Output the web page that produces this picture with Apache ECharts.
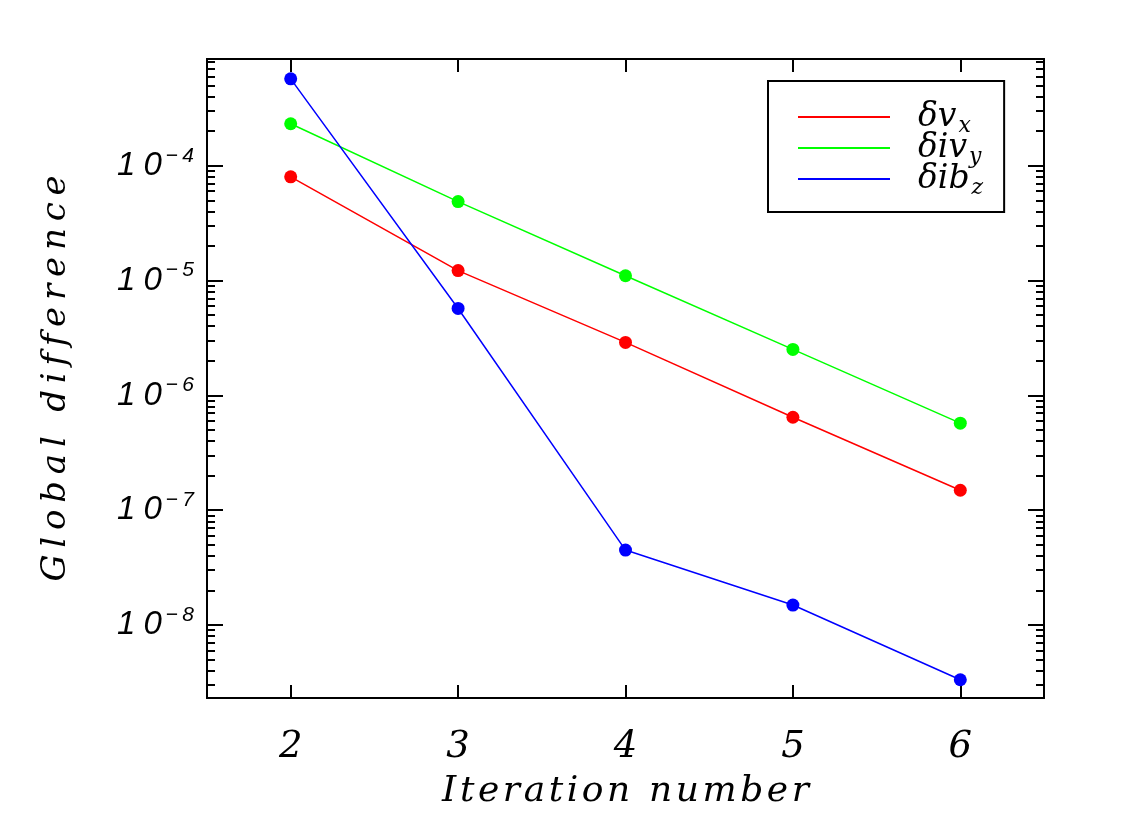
<!DOCTYPE html>
<html>
<head>
<meta charset="utf-8">
<script src="https://cdn.jsdelivr.net/npm/echarts@6/dist/echarts.min.js"></script>
<style>
  html, body { margin: 0; padding: 0; background: #fff; }
  #main { width: 1146px; height: 815px; }
</style>
</head>
<body>
<div id="main"></div>
<script>
// 迭代次数
var iterations = [2, 3, 4, 5, 6];
// 各分量的全局差值
var dvx = [8.0e-5, 1.22e-5, 2.89e-6, 6.44e-7, 1.49e-7];
var divy = [2.32e-4, 4.87e-5, 1.10e-5, 2.51e-6, 5.72e-7];
var dibz = [5.71e-4, 5.71e-6, 4.49e-8, 1.49e-8, 3.33e-9];
// 坐标轴刻度
var xTicks = [2, 3, 4, 5, 6];
var yMajorExp = [-8, -7, -6, -5, -4];
var yMin = 2.31e-9;
var yMax = 8.5e-4;

var serifItalic = 'DejaVu Serif';

// 字母间加细空格，模拟原图的宽字距
function spaced(str, sep) {
    return str.split('').join(sep);
}
// 对数变换
function toPoints(vals) {
    return iterations.map(function (x, i) {
        return [x, Math.log10(vals[i])];
    });
}
// 次刻度：k * 10^n
function minorTicks() {
    var out = [];
    for (var n = -10; n <= -3; n++) {
        for (var k = 2; k <= 9; k++) {
            var v = Math.log10(k) + n;
            if (v >= Math.log10(yMin) && v <= Math.log10(yMax)) {
                out.push(v);
            }
        }
    }
    return out;
}

function yAxisDef(position, major, showLabel) {
    var ticks = major ? yMajorExp : minorTicks();
    return {
        type: 'value',
        position: position,
        min: Math.log10(yMin),
        max: Math.log10(yMax),
        name: (showLabel ? spaced('Global difference', '\u2009') : ''),
        nameLocation: 'middle',
        nameGap: 134,
        nameTextStyle: {
            fontFamily: serifItalic,
            fontStyle: 'italic',
            fontSize: 34,
            color: '#000'
        },
        axisLine: {show: true, lineStyle: {color: '#000', width: 2}},
        splitLine: {show: false},
        axisTick: {
            show: true,
            inside: true,
            length: major ? 16 : 8,
            customValues: ticks,
            lineStyle: {color: '#000', width: 2}
        },
        axisLabel: {
            show: showLabel,
            customValues: yMajorExp,
            margin: 13,
            formatter: function (v) {
                return '{b|1\u20050}{s|\u2212\u2009' + Math.abs(Math.round(v)) + '}';
            },
            rich: {
                b: {
                    fontFamily: 'Liberation Sans',
                    fontStyle: 'italic',
                    fontSize: 33,
                    color: '#000'
                },
                s: {
                    fontFamily: 'Liberation Sans',
                    fontStyle: 'italic',
                    fontSize: 21,
                    color: '#000',
                    padding: [0, 0, 20, 4]
                }
            }
        }
    };
}

function xAxisDef(position, showLabel) {
    return {
        type: 'value',
        position: position,
        min: 1.5,
        max: 6.5,
        name: (showLabel ? spaced('Iteration number', '\u200a') : ''),
        nameLocation: 'middle',
        nameGap: 76,
        nameTextStyle: {
            fontFamily: serifItalic,
            fontStyle: 'italic',
            fontSize: 36,
            color: '#000'
        },
        axisLine: {show: true, lineStyle: {color: '#000', width: 2}},
        splitLine: {show: false},
        axisTick: {
            show: true,
            inside: true,
            length: 13,
            customValues: xTicks,
            lineStyle: {color: '#000', width: 2}
        },
        axisLabel: {
            show: showLabel,
            customValues: xTicks,
            margin: 31,
            fontFamily: serifItalic,
            fontStyle: 'italic',
            fontSize: 37,
            color: '#000'
        }
    };
}

function lineSeries(name, vals, color) {
    return {
        name: name,
        type: 'line',
        xAxisIndex: 0,
        yAxisIndex: 0,
        data: toPoints(vals),
        symbol: 'circle',
        symbolSize: 13,
        showSymbol: true,
        lineStyle: {color: color, width: 1.5},
        itemStyle: {color: color},
        z: 3
    };
}

var chart = echarts.init(document.getElementById('main'), null, {renderer: 'canvas'});
chart.setOption({
    backgroundColor: '#fff',
    animation: false,
    grid: {left: 207, top: 59, right: 102, bottom: 116, containLabel: false},
    xAxis: [xAxisDef('bottom', true), xAxisDef('top', false)],
    yAxis: [
        yAxisDef('left', true, true),
        yAxisDef('left', false, false),
        yAxisDef('right', true, false),
        yAxisDef('right', false, false)
    ],
    legend: {
        orient: 'vertical',
        left: 768,
        top: 81,
        padding: [16, 21, 13, 30],
        borderColor: '#000',
        borderWidth: 2,
        itemWidth: 92,
        itemHeight: 2,
        itemGap: -9,
        icon: 'rect',
        data: ['dvx', 'divy', 'dibz'],
        formatter: function (name) {
            var map = {
                dvx: '{m|\u03b4v}{u|x}',
                divy: '{m|\u03b4iv}{u|y}',
                dibz: '{m|\u03b4ib}{u|z}'
            };
            return map[name];
        },
        textStyle: {
            padding: [0, 0, 0, 23],
            rich: {
                m: {
                    fontFamily: serifItalic,
                    fontStyle: 'italic',
                    fontSize: 33,
                    color: '#000',
                    lineHeight: 30
                },
                u: {
                    fontFamily: serifItalic,
                    fontStyle: 'italic',
                    fontSize: 22,
                    color: '#000',
                    padding: [18, 0, 0, 2],
                    lineHeight: 12
                }
            }
        }
    },
    series: [
        lineSeries('dvx', dvx, '#ff0000'),
        lineSeries('divy', divy, '#00ff00'),
        lineSeries('dibz', dibz, '#0000ff')
    ]
});
</script>
</body>
</html>
